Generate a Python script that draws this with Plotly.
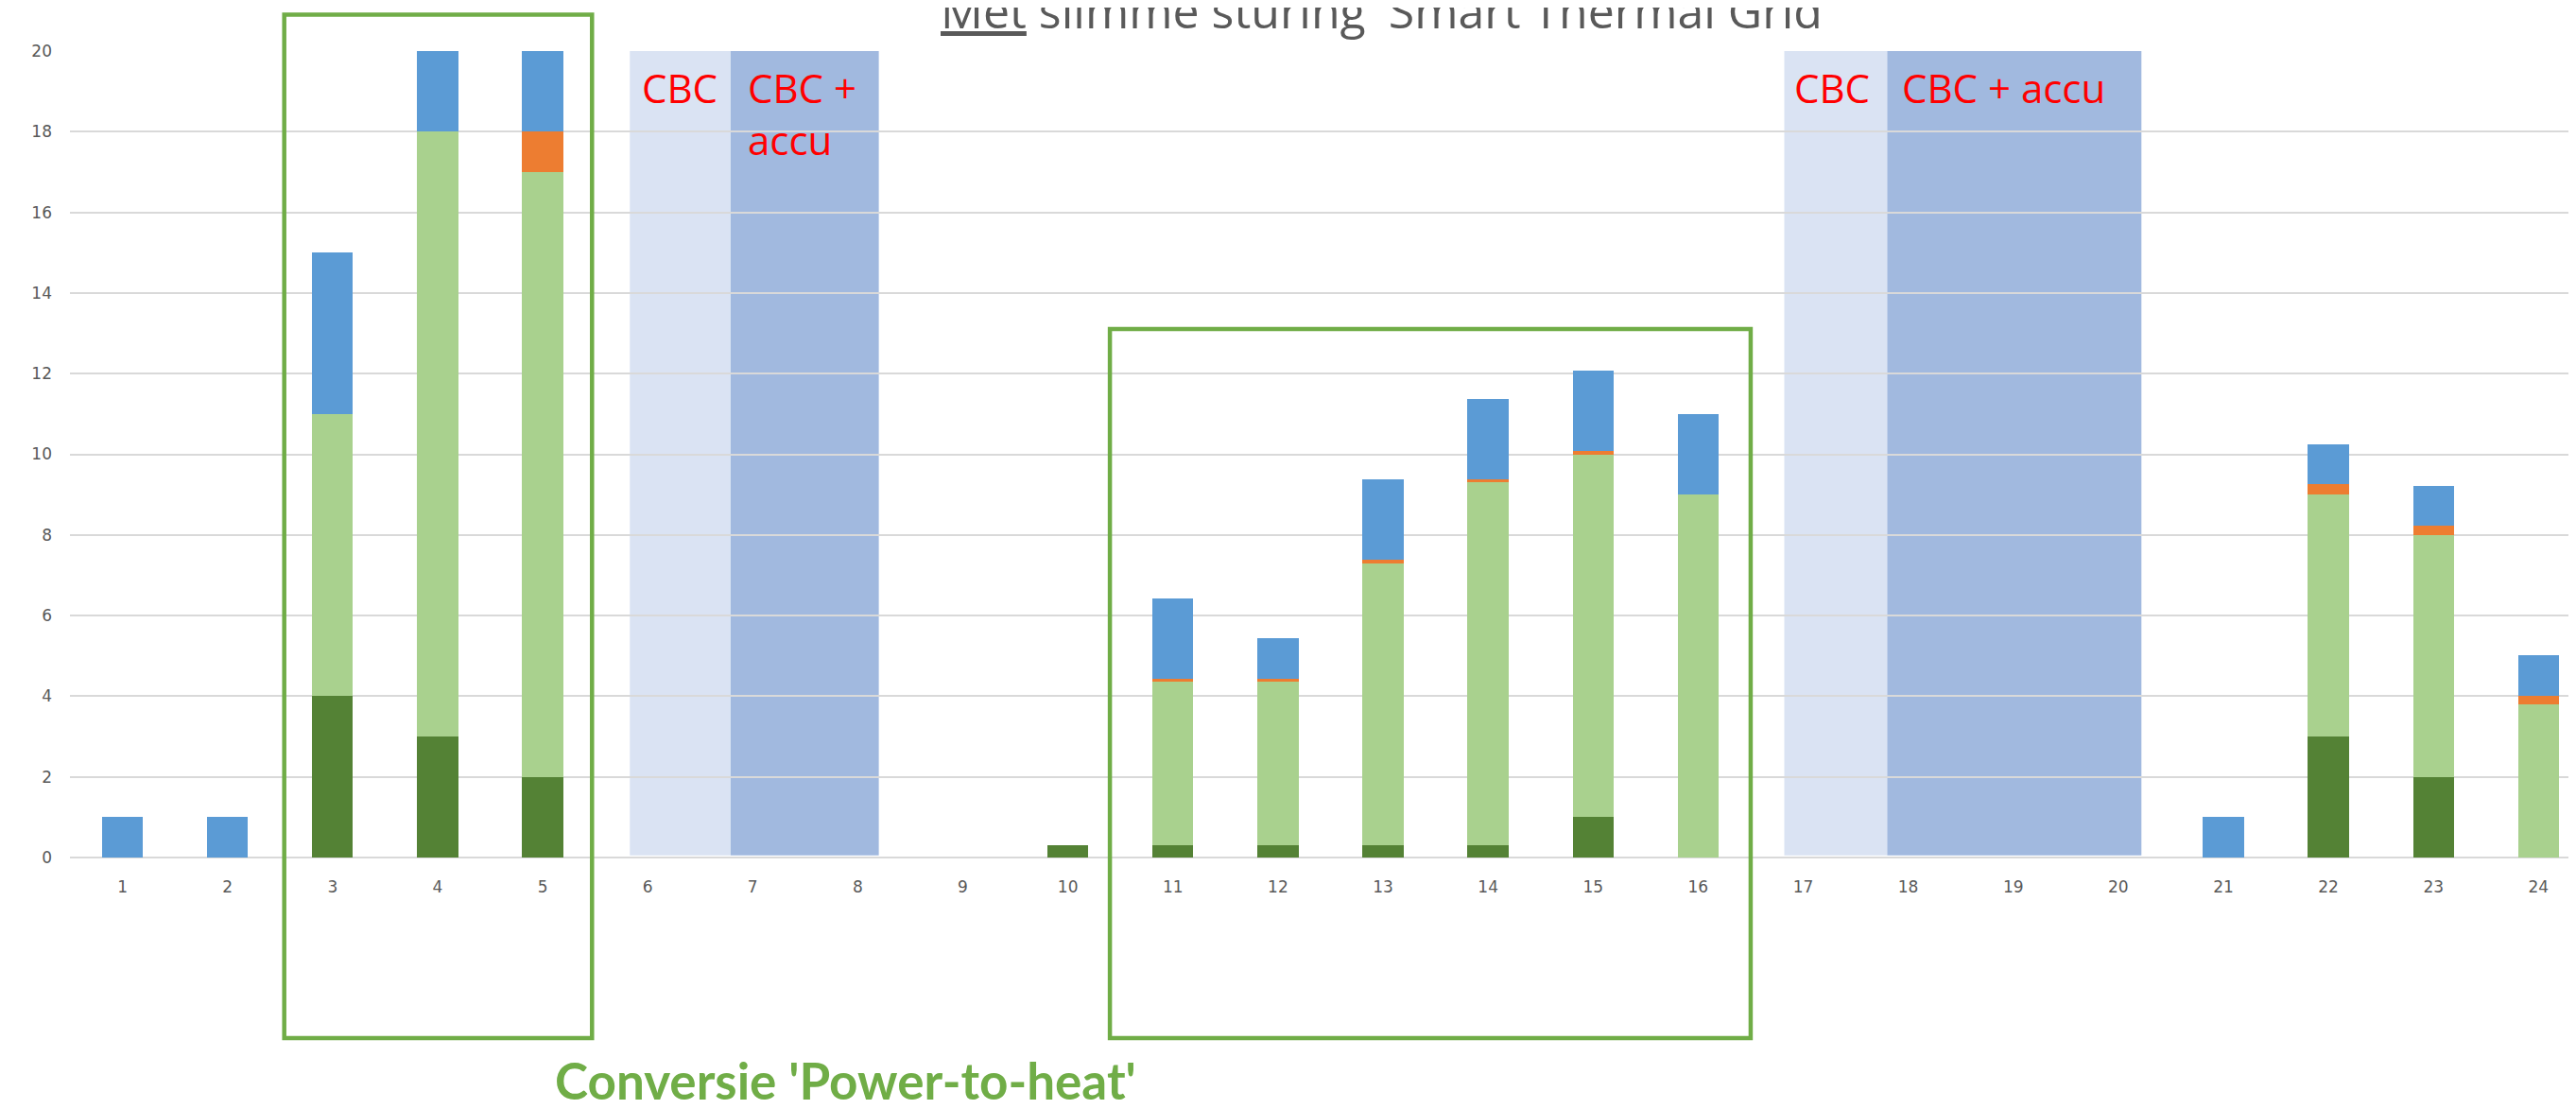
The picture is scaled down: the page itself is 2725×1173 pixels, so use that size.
import plotly.graph_objects as go

# ---- data ----
categories = list(range(1, 25))
tick_labels = [str(c) for c in categories]
dark_green = [0, 0, 4, 3, 2, 0, 0, 0, 0, 0.3, 0.3, 0.3, 0.3, 0.3, 1.0, 0, 0, 0, 0, 0, 0, 3, 2, 0]
light_green = [0, 0, 7, 15, 15, 0, 0, 0, 0, 0, 4.05, 4.05, 7.0, 9.0, 9.0, 9.0, 0, 0, 0, 0, 0, 6.0, 6.0, 3.8]
orange = [0, 0, 0, 0, 1, 0, 0, 0, 0, 0, 0.08, 0.08, 0.08, 0.08, 0.08, 0, 0, 0, 0, 0, 0, 0.25, 0.22, 0.22]
blue = [1, 1, 4, 2, 2, 0, 0, 0, 0, 0, 2.0, 1.0, 2.0, 2.0, 2.0, 2.0, 0, 0, 0, 0, 1, 1, 1, 1]

# shaded periods (x start, x end)
cbc_bands = [(5.83, 6.79), (16.82, 17.80)]
cbc_accu_bands = [(6.79, 8.20), (17.80, 20.22)]
# conversion boxes (x start, x end, paper y bottom, paper y top)
conv_boxes = [(2.54, 5.47, -0.224, 1.045), (10.40, 16.50, -0.224, 0.6553)]

title_text = "<span style='text-decoration:underline'>Met</span> slimme sturing 'Smart Thermal Grid'"

series = [
    ("dark", dark_green, "#548235"),
    ("light", light_green, "#A9D18E"),
    ("orange", orange, "#ED7D31"),
    ("blue", blue, "#5B9BD5"),
]

fig = go.Figure()
for name, vals, col in series:
    fig.add_trace(go.Bar(x=categories, y=vals, name=name, width=0.39,
                         marker=dict(color=col, line=dict(width=0)),
                         showlegend=False))

shapes = []
for x0, x1 in cbc_bands:
    shapes.append(dict(type="rect", xref="x", yref="y", x0=x0, x1=x1, y0=0.05, y1=20,
                       fillcolor="#DAE3F3", line=dict(width=0), layer="below"))
for x0, x1 in cbc_accu_bands:
    shapes.append(dict(type="rect", xref="x", yref="y", x0=x0, x1=x1, y0=0.05, y1=20,
                       fillcolor="#A1B9DF", line=dict(width=0), layer="below"))
for x0, x1, y0, y1 in conv_boxes:
    shapes.append(dict(type="rect", xref="x", yref="paper", x0=x0, x1=x1, y0=y0, y1=y1,
                       fillcolor="rgba(0,0,0,0)", line=dict(color="#70AD47", width=4.5),
                       layer="above"))

red_font = dict(family="Open Sans", size=42, color="#FF0000")
annotations = [
    dict(text="CBC", x=5.93, y=19.1, xref="x", yref="y", xanchor="left", yanchor="middle",
         showarrow=False, font=red_font),
    dict(text="CBC +<br>accu", x=6.93, y=18.45, xref="x", yref="y", xanchor="left",
         yanchor="middle", align="left", showarrow=False, font=red_font),
    dict(text="CBC", x=16.90, y=19.1, xref="x", yref="y", xanchor="left", yanchor="middle",
         showarrow=False, font=red_font),
    dict(text="CBC + accu", x=17.92, y=19.1, xref="x", yref="y", xanchor="left",
         yanchor="middle", showarrow=False, font=red_font),
    dict(text="<b>Conversie 'Power-to-heat'</b>", x=7.885, y=-0.2755, xref="x", yref="paper",
         xanchor="center", yanchor="middle", showarrow=False,
         font=dict(family="Lato", size=53, color="#70AD47")),
    dict(text=title_text, x=0.5255, y=1.05, xref="paper", yref="paper",
         xanchor="center", yanchor="middle", showarrow=False,
         font=dict(family="Open Sans", size=50, color="#595959")),
]

# page body has an 8px margin: size and margins compensate so the plot sits where the reference has it
fig.update_layout(
    width=2717, height=1165, autosize=False,
    margin=dict(l=66, r=0, t=46, b=266, pad=0),
    barmode="stack",
    plot_bgcolor="white", paper_bgcolor="white",
    shapes=shapes, annotations=annotations,
    showlegend=False,
)
fig.update_xaxes(range=[0.5, 24.357], tickmode="array", tickvals=categories, ticktext=tick_labels,
                 showgrid=False, showline=False, zeroline=False, ticks="",
                 tickfont=dict(family="DejaVu Sans", size=17, color="#595959"),
                 ticklabelstandoff=19)
fig.update_yaxes(range=[0, 20], dtick=2, tick0=0, showgrid=True, gridcolor="#D9D9D9", gridwidth=1.5,
                 zeroline=True, zerolinecolor="#D9D9D9", zerolinewidth=2, showline=False, ticks="",
                 tickfont=dict(family="DejaVu Sans", size=17, color="#595959"),
                 ticklabelstandoff=18)

fig.write_html("out.html")
